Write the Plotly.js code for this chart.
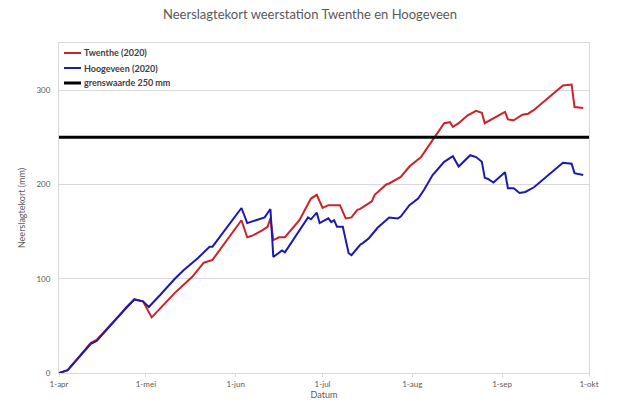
<!DOCTYPE html>
<html>
<head>
<meta charset="utf-8">
<script src="https://cdn.plot.ly/plotly-3.0.1.min.js"></script>
<style>html,body{margin:0;padding:0;background:#fff;}#chart{width:620px;height:405px;}</style>
</head>
<body>
<div id="chart"></div>
<script>
// Twenthe (2020)
const twentheDates = ['2020-04-01','2020-04-04','2020-04-12','2020-04-14','2020-04-23','2020-04-24','2020-04-27','2020-04-30',
  '2020-05-03','2020-05-06','2020-05-11','2020-05-17','2020-05-21','2020-05-24','2020-06-03','2020-06-05','2020-06-07',
  '2020-06-10','2020-06-12','2020-06-13','2020-06-14','2020-06-16','2020-06-18','2020-06-23','2020-06-27','2020-06-29',
  '2020-07-01','2020-07-03','2020-07-07','2020-07-09','2020-07-11','2020-07-13','2020-07-14','2020-07-16','2020-07-18',
  '2020-07-19','2020-07-23','2020-07-24','2020-07-28','2020-07-31','2020-08-04','2020-08-08','2020-08-12','2020-08-14',
  '2020-08-15','2020-08-17','2020-08-20','2020-08-23','2020-08-25','2020-08-26','2020-09-02','2020-09-03','2020-09-05',
  '2020-09-08','2020-09-10','2020-09-12','2020-09-22','2020-09-25','2020-09-26','2020-09-29'];
const twentheValues = [0,3,32,35,65,69,78,76,
  59,69,85,102,117,120,162,144,146,
  151,155,164,141,144,144,162,185,189,
  175,178,178,164,165,173,174,178,182,
  189,200,201,208,219,229,247,265,266,
  261,265,273,278,276,265,277,269,268,
  274,275,279,305,306,282,281];

// Hoogeveen (2020)
const hoogeveenDates = ['2020-04-01','2020-04-04','2020-04-12','2020-04-14','2020-04-23','2020-04-24','2020-04-27','2020-04-30',
  '2020-05-02','2020-05-06','2020-05-11','2020-05-14','2020-05-19','2020-05-23','2020-05-24','2020-06-03','2020-06-05',
  '2020-06-08','2020-06-11','2020-06-13','2020-06-14','2020-06-17','2020-06-18','2020-06-26','2020-06-27','2020-06-29',
  '2020-06-30','2020-07-03','2020-07-04','2020-07-05','2020-07-06','2020-07-08','2020-07-10','2020-07-11','2020-07-14',
  '2020-07-15','2020-07-17','2020-07-20','2020-07-24','2020-07-27','2020-07-28','2020-07-31','2020-08-03','2020-08-05',
  '2020-08-08','2020-08-12','2020-08-15','2020-08-17','2020-08-21','2020-08-23','2020-08-25','2020-08-26','2020-08-27',
  '2020-08-29','2020-09-02','2020-09-03','2020-09-05','2020-09-07','2020-09-09','2020-09-12','2020-09-22','2020-09-25',
  '2020-09-26','2020-09-29'];
const hoogeveenValues = [0,3,31,34,65,68,78,76,
  70,83,100,109,122,134,134,175,159,
  162,165,174,123,130,128,165,163,170,
  159,164,160,162,155,155,127,125,136,
  138,143,154,165,164,166,178,185,194,
  210,224,230,219,231,229,224,207,206,
  202,213,196,196,191,192,197,223,222,
  212,210];

// grenswaarde 250 mm
const limitDates = ['2020-04-01','2020-10-01'];
const limitValues = [250,250];

const tickDates = ['2020-04-01','2020-05-01','2020-06-01','2020-07-01','2020-08-01','2020-09-01','2020-10-01'];
const tickLabels = ['1-apr','1-mei','1-jun','1-jul','1-aug','1-sep','1-okt'];

const seriesNames = ['Twenthe (2020)','Hoogeveen (2020)','grenswaarde 250 mm'];
const seriesColors = ['#CC2229','#1A1AB0','#000000'];
const seriesWidths = [2, 2, 3];

const FONT = 'Lato, "Open Sans", sans-serif';
const traces = [
  {x: twentheDates, y: twentheValues, name: seriesNames[0], mode: 'lines', line: {color: seriesColors[0], width: seriesWidths[0]}},
  {x: hoogeveenDates, y: hoogeveenValues, name: seriesNames[1], mode: 'lines', line: {color: seriesColors[1], width: seriesWidths[1]}},
  {x: limitDates, y: limitValues, name: seriesNames[2], mode: 'lines', line: {color: seriesColors[2], width: seriesWidths[2]}}
];

// manual legend (compact Excel-style spacing)
const legendY = [0.9697, 0.9242, 0.8788];
const shapes = [], annotations = [];
seriesNames.forEach((n, i) => {
  shapes.push({type: 'line', xref: 'paper', yref: 'paper', x0: 0.0094, x1: 0.0415, y0: legendY[i], y1: legendY[i],
               line: {color: seriesColors[i], width: seriesWidths[i]}});
  annotations.push({xref: 'paper', yref: 'paper', x: 0.0434, y: legendY[i], xanchor: 'left', yanchor: 'middle',
                    text: n, showarrow: false, font: {family: FONT, size: 9, color: '#404040', weight: 'bold'}});
});

const layout = {
  width: 620, height: 405,
  margin: {l: 59, r: 31, t: 43, b: 32},
  paper_bgcolor: '#fff', plot_bgcolor: '#fff',
  font: {family: FONT, size: 8, color: '#595959'},
  title: {text: 'Neerslagtekort weerstation Twenthe en Hoogeveen', font: {family: FONT, size: 13, color: '#595959'},
          x: 0.5, xanchor: 'center', yref: 'container', y: 0.965, yanchor: 'middle'},
  xaxis: {type: 'date', range: ['2020-04-01','2020-10-01'], tickvals: tickDates, ticktext: tickLabels,
          showgrid: false, showline: true, linecolor: '#d9d9d9', linewidth: 1, mirror: true,
          ticks: 'outside', ticklen: 3, tickcolor: '#d9d9d9', zeroline: false,
          tickfont: {family: FONT, size: 8, color: '#595959'},
          title: {text: 'Datum', font: {family: FONT, size: 9, color: '#595959'}, standoff: 4}},
  yaxis: {range: [0, 350], tickvals: [0,100,200,300], showgrid: true, gridcolor: '#d9d9d9', gridwidth: 1,
          showline: true, linecolor: '#d9d9d9', linewidth: 1, mirror: true, zeroline: false, ticks: '',
          tickfont: {family: FONT, size: 8, color: '#595959'}, ticklabelstandoff: 6,
          title: {text: 'Neerslagtekort (mm)', font: {family: FONT, size: 9, color: '#595959'}, standoff: 9}},
  shapes: shapes,
  annotations: annotations,
  showlegend: false
};
Plotly.newPlot('chart', traces, layout, {displayModeBar: false, staticPlot: true});
</script>
</body>
</html>
